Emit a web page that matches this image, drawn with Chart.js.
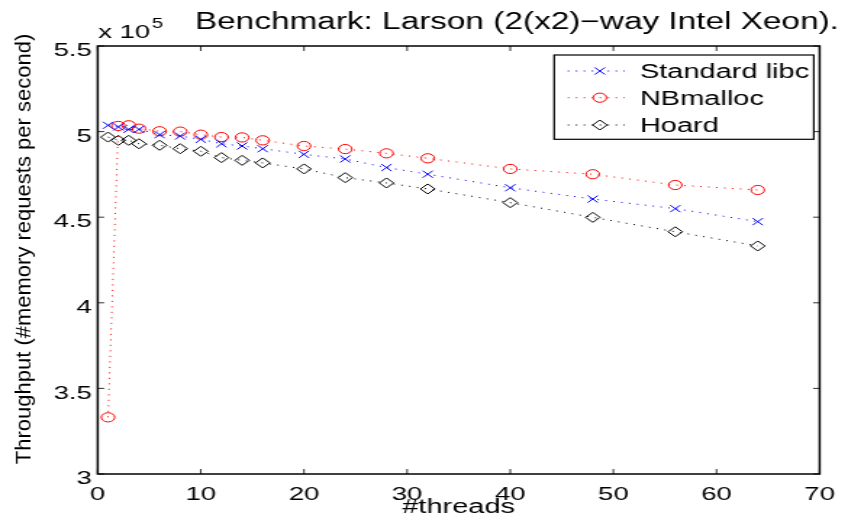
<!DOCTYPE html>
<html>
<head>
<meta charset="utf-8">
<title>Benchmark: Larson</title>
<script src="https://cdn.jsdelivr.net/npm/chart.js@4.4.1/dist/chart.umd.min.js"></script>
<style>
  html, body { margin: 0; padding: 0; background: #fff; overflow: hidden; }
</style>
</head>
<body>
<!-- drawn on a 585 px wide canvas and shown 848 px wide (wide-aspect figure) -->
<canvas id="chart" width="585" height="527" style="display:block;width:848px;height:527px"></canvas>
<script>
// Larson benchmark throughput (memory requests per second) per thread count
const threads = [1, 2, 3, 4, 6, 8, 10, 12, 14, 16, 20, 24, 28, 32, 40, 48, 56, 64];

const standardLibc = [503700, 502700, 501300, 501300, 498200, 497400, 495500, 492900, 491600,
                      490000, 486700, 484000, 479000, 475100, 467200, 460600, 455000, 447400];
const nbMalloc     = [333100, 503300, 503700, 501700, 500200, 500000, 498200, 496800, 496600,
                      494900, 491600, 489800, 487300, 484400, 478200, 475100, 468800, 465900];
const hoard        = [496800, 494900, 494900, 492900, 492000, 490000, 488500, 484800, 483200,
                      481700, 478200, 473100, 470000, 466500, 458500, 449900, 441500, 433200];

const xTicks = [0, 10, 20, 30, 40, 50, 60, 70];
const yTicks = [300000, 350000, 400000, 450000, 500000, 550000];
const yExponent = 5;

const FONT = "'Liberation Sans', Arial, Helvetica, sans-serif";
const W = 585, H = 527;
const STRETCH = 848 / W;   // CSS horizontal scale of the canvas

function series(values) {
  return threads.map((t, i) => ({ x: t, y: values[i] }));
}

function lineSet(label, values, color, style, radius) {
  return {
    label,
    data: series(values),
    borderColor: color,
    backgroundColor: 'rgba(0,0,0,0)',
    borderWidth: 1,
    borderDash: [1, 4.5],
    pointStyle: style,
    pointRadius: radius,
    pointHoverRadius: radius,
    pointBorderColor: color,
    pointBackgroundColor: 'rgba(0,0,0,0)',
    pointBorderWidth: 1,
    tension: 0,
    fill: false
  };
}

// inward tick marks on all four sides plus the box frame
const axesBox = {
  id: 'axesBox',
  afterDatasetsDraw(chart) {
    const { ctx, chartArea: a, scales: { x, y } } = chart;
    ctx.save();
    ctx.strokeStyle = '#333';
    ctx.lineWidth = 1;
    ctx.beginPath();
    x.ticks.forEach(t => {
      const px = x.getPixelForValue(t.value);
      ctx.moveTo(px, a.bottom); ctx.lineTo(px, a.bottom - 5);
      ctx.moveTo(px, a.top);    ctx.lineTo(px, a.top + 5);
    });
    y.ticks.forEach(t => {
      const py = y.getPixelForValue(t.value);
      ctx.moveTo(a.left, py);  ctx.lineTo(a.left + 4.5, py);
      ctx.moveTo(a.right, py); ctx.lineTo(a.right - 4.5, py);
    });
    ctx.stroke();
    ctx.strokeStyle = '#000';
    ctx.lineWidth = 1.5;
    ctx.strokeRect(a.left, a.top, a.right - a.left, a.bottom - a.top);
    ctx.restore();
  }
};

function drawMarker(ctx, style, x, y, r) {
  ctx.beginPath();
  if (style === 'circle') {
    ctx.arc(x, y, r, 0, Math.PI * 2);
  } else if (style === 'crossRot') {
    const d = r * Math.SQRT1_2;
    ctx.moveTo(x - d, y - d); ctx.lineTo(x + d, y + d);
    ctx.moveTo(x - d, y + d); ctx.lineTo(x + d, y - d);
  } else if (style === 'rectRot') {
    ctx.moveTo(x - r, y); ctx.lineTo(x, y - r);
    ctx.lineTo(x + r, y); ctx.lineTo(x, y + r);
    ctx.closePath();
  }
  ctx.stroke();
}

// title, exponent label, vertical axis title and the boxed legend
const annotations = {
  id: 'annotations',
  afterDraw(chart) {
    const { ctx, chartArea: a } = chart;
    ctx.save();
    ctx.fillStyle = '#000';

    // title
    ctx.font = `23px ${FONT}`;
    ctx.textAlign = 'center';
    ctx.textBaseline = 'alphabetic';
    ctx.fillText('Benchmark: Larson (2(x2)\u2212way Intel Xeon).', 356.6, 28.5);

    // axis multiplier
    ctx.textAlign = 'left';
    ctx.font = `19px ${FONT}`;
    const base = 'x 10';
    ctx.fillText(base, a.left + 0.3, 38);
    const bw = ctx.measureText(base).width;
    ctx.font = `14px ${FONT}`;
    ctx.fillText(String(yExponent), a.left + 0.3 + bw + 1.2, 28);

    // vertical axis title (undo the horizontal canvas stretch for rotated text)
    ctx.save();
    ctx.translate(17.2, 249);
    ctx.scale(1 / STRETCH, 1);
    ctx.rotate(-Math.PI / 2);
    ctx.font = `22px ${FONT}`;
    ctx.textAlign = 'center';
    ctx.textBaseline = 'middle';
    ctx.fillText('Throughput (#memory requests per second)', 0, 0);
    ctx.restore();

    // legend
    const box = { left: 382.3, right: 561.4, top: 55, bottom: 139.3 };
    ctx.fillStyle = '#fff';
    ctx.fillRect(box.left, box.top, box.right - box.left, box.bottom - box.top);
    ctx.strokeStyle = '#000';
    ctx.lineWidth = 1.2;
    ctx.strokeRect(box.left, box.top, box.right - box.left, box.bottom - box.top);

    const rows = [71, 97.7, 125];
    chart.data.datasets.forEach((ds, i) => {
      const ry = rows[i];
      ctx.save();
      ctx.strokeStyle = ds.borderColor;
      ctx.lineWidth = 1;
      ctx.setLineDash(ds.borderDash);
      ctx.beginPath();
      ctx.moveTo(391.7, ry); ctx.lineTo(431, ry);
      ctx.stroke();
      ctx.setLineDash([]);
      drawMarker(ctx, ds.pointStyle, 413.8, ry, ds.pointRadius);
      ctx.restore();
      ctx.fillStyle = '#000';
      ctx.font = `20px ${FONT}`;
      ctx.textAlign = 'left';
      ctx.textBaseline = 'alphabetic';
      ctx.fillText(ds.label, 441.4, ry + 7.3);
    });
    ctx.restore();
  }
};

new Chart(document.getElementById('chart'), {
  type: 'line',
  data: {
    datasets: [
      lineSet('Standard libc', standardLibc, '#0000ff', 'crossRot', 5),
      lineSet('NBmalloc', nbMalloc, '#ff0000', 'circle', 4.6),
      lineSet('Hoard', hoard, '#000000', 'rectRot', 5)
    ]
  },
  options: {
    responsive: false,
    animation: false,
    events: [],
    layout: { padding: { top: 46, right: W - 572.4, bottom: 0, left: 0 } },
    plugins: {
      legend: { display: false },
      title: { display: false },
      tooltip: { enabled: false }
    },
    scales: {
      x: {
        type: 'linear',
        min: 0,
        max: 70,
        grid: { display: false, drawTicks: false },
        border: { display: false },
        afterBuildTicks: s => { s.ticks = xTicks.map(v => ({ value: v })); },
        afterFit: s => { s.height = H - 474; },
        ticks: {
          color: '#000',
          padding: 9,
          maxRotation: 0,
          font: { family: FONT, size: 19 },
          callback: v => String(v)
        },
        title: {
          display: true,
          text: '#threads',
          color: '#000',
          font: { family: FONT, size: 20 },
          padding: { top: 0, bottom: 8 }
        }
      },
      y: {
        type: 'linear',
        min: 300000,
        max: 550000,
        grid: { display: false, drawTicks: false },
        border: { display: false },
        afterBuildTicks: s => { s.ticks = yTicks.map(v => ({ value: v })); },
        afterFit: s => { s.width = 67.4; },
        ticks: {
          color: '#000',
          padding: 4,
          labelOffset: 5,
          font: { family: FONT, size: 19 },
          callback: v => String(Math.round(v / Math.pow(10, yExponent - 1)) / 10)
        }
      }
    }
  },
  plugins: [axesBox, annotations]
});
</script>
</body>
</html>
